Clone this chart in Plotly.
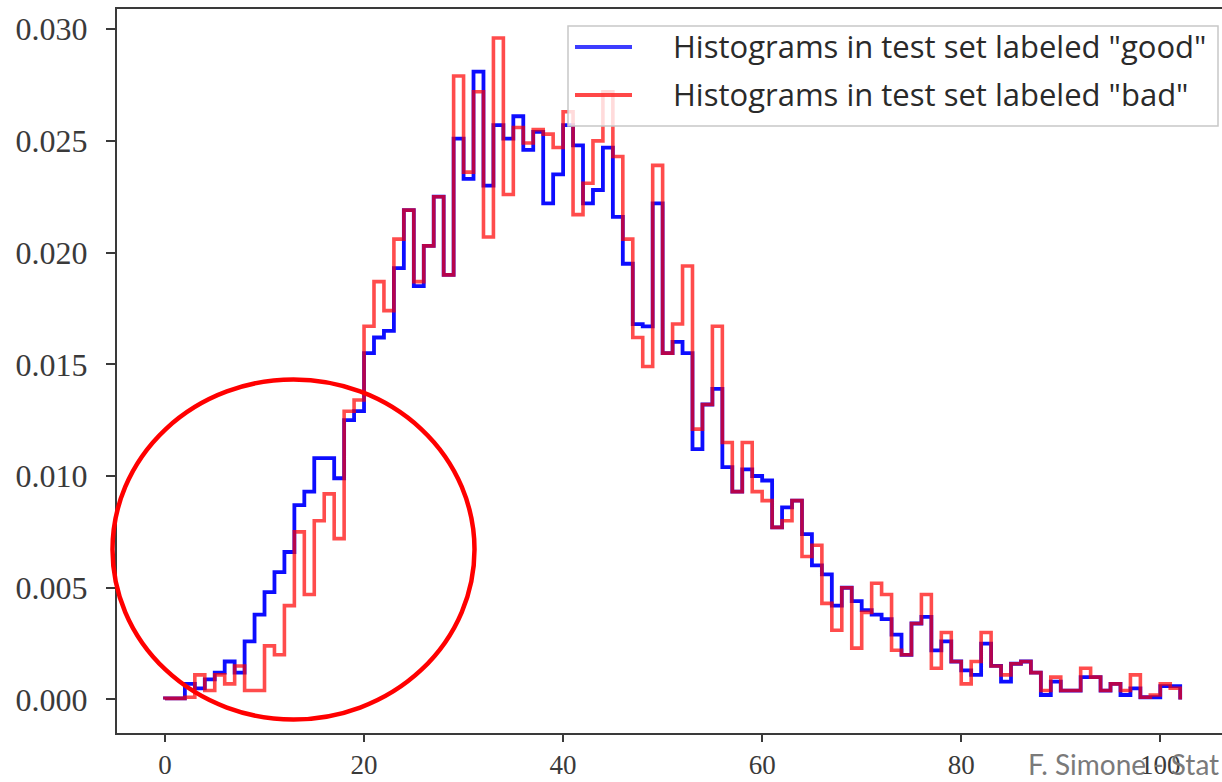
import plotly.graph_objects as go

# ---- data ----
bin_start = 0.0
bin_width = 1.0

good_density = [
    0.00005, 0.00005, 0.0007, 0.0005, 0.0009, 0.0012, 0.0017, 0.0012, 0.0026, 0.0038,
    0.0048, 0.0057, 0.0066, 0.0087, 0.0093, 0.0108, 0.0108, 0.0099, 0.0125, 0.0129,
    0.0155, 0.0162, 0.0165, 0.0193, 0.0219, 0.0185, 0.0203, 0.0225, 0.0190, 0.0251,
    0.0233, 0.0281, 0.0230, 0.0257, 0.0251, 0.0261, 0.0246, 0.0254, 0.0222, 0.0235,
    0.0257, 0.0248, 0.0222, 0.0228, 0.0247, 0.0216, 0.0195, 0.0168, 0.0167, 0.0222,
    0.0155, 0.0160, 0.0155, 0.0112, 0.0132, 0.0139, 0.0104, 0.0093, 0.0103, 0.0100,
    0.0098, 0.0077, 0.0086, 0.0089, 0.0074, 0.0060, 0.0056, 0.0042, 0.0050, 0.0044,
    0.0040, 0.0038, 0.0036, 0.0029, 0.0020, 0.0034, 0.0037, 0.0022, 0.0026, 0.0017,
    0.0013, 0.0011, 0.0025, 0.0015, 0.0008, 0.0016, 0.0017, 0.0012, 0.0002, 0.0008,
    0.0004, 0.0004, 0.0010, 0.0010, 0.0004, 0.0007, 0.0002, 0.0005, 0.0001, 0.0001,
    0.0006, 0.0006,
]

bad_density = [
    0.00005, 0.00005, 0.0001, 0.0011, 0.0004, 0.0011, 0.0007, 0.0015, 0.0004, 0.0004,
    0.0024, 0.0020, 0.0042, 0.0075, 0.0047, 0.0080, 0.0092, 0.0072, 0.0129, 0.0134,
    0.0167, 0.0187, 0.0174, 0.0206, 0.0219, 0.0187, 0.0203, 0.0225, 0.0190, 0.0279,
    0.0236, 0.0272, 0.0207, 0.0296, 0.0226, 0.0256, 0.0249, 0.0255, 0.0253, 0.0247,
    0.0263, 0.0217, 0.0231, 0.0250, 0.0272, 0.0243, 0.0206, 0.0162, 0.0149, 0.0239,
    0.0155, 0.0168, 0.0194, 0.0121, 0.0132, 0.0167, 0.0115, 0.0093, 0.0115, 0.0093,
    0.0089, 0.0077, 0.0080, 0.0089, 0.0064, 0.0069, 0.0043, 0.0031, 0.0050, 0.0023,
    0.0039, 0.0052, 0.0047, 0.0022, 0.0020, 0.0034, 0.0047, 0.0014, 0.0030, 0.0017,
    0.0007, 0.0017, 0.0030, 0.0015, 0.0011, 0.0016, 0.0017, 0.0012, 0.0004, 0.0010,
    0.0004, 0.0004, 0.0014, 0.0010, 0.0004, 0.0007, 0.0004, 0.0011, 0.0001, 0.0002,
    0.0007, 0.0005,
]

series_names = ['Histograms in test set labeled "good"',
                'Histograms in test set labeled "bad"']
x_ticks = [0, 20, 40, 60, 80, 100]
y_ticks = [0.000, 0.005, 0.010, 0.015, 0.020, 0.025, 0.030]
footer_text = "F. Simone - Stat"

# ---- build step outlines (histtype="step") ----
n_bins = len(good_density)
edges = [bin_start + i * bin_width for i in range(n_bins + 1)]


def step_xy(vals):
    xs = [edges[0]] + edges + [edges[-1]]
    ys = [0.0] + list(vals) + [vals[-1], 0.0]
    return xs, ys


gx, gy = step_xy(good_density)
bx, by = step_xy(bad_density)

fig = go.Figure()
fig.add_trace(go.Scatter(x=gx, y=gy, mode="lines", line_shape="hv",
                         line=dict(color="rgba(0,0,255,0.95)", width=3.8),
                         name=series_names[0], showlegend=False))
fig.add_trace(go.Scatter(x=bx, y=by, mode="lines", line_shape="hv",
                         line=dict(color="rgba(255,0,0,0.7)", width=3.6),
                         name=series_names[1], showlegend=False))

W, H = 1222, 782
ML, MR, MT, MB = 117, 0, 9, 49
PW, PH = W - ML - MR, H - MT - MB


def px(xp):
    return (xp - ML) / PW


def py(yp):
    return (H - MB - yp) / PH


y_tick_font = dict(family="Liberation Serif, DejaVu Serif, serif", size=32, color="#3a3a3a")
x_tick_font = dict(family="Liberation Serif, DejaVu Serif, serif", size=27, color="#3a3a3a")

fig.update_layout(
    width=W, height=H,
    margin=dict(l=ML, r=MR, t=MT, b=MB, pad=0, autoexpand=False),
    paper_bgcolor="white", plot_bgcolor="white",
    showlegend=False,
    xaxis=dict(range=[-4.82, 106.2], tickvals=x_ticks, ticktext=[str(v) for v in x_ticks],
               showgrid=False, zeroline=False, showline=True, mirror=True,
               linecolor="#3a3a3a", linewidth=2, ticks="outside", ticklen=7,
               tickwidth=1.5, tickcolor="#3a3a3a", tickfont=x_tick_font,
               ticklabelstandoff=0, automargin=False),
    yaxis=dict(range=[-0.0015, 0.0309], tickvals=y_ticks,
               ticktext=["%.3f" % v for v in y_ticks],
               showgrid=False, zeroline=False, showline=True, mirror=False,
               linecolor="#3a3a3a", linewidth=2, ticks="outside", ticklen=9,
               tickwidth=1.5, tickcolor="#3a3a3a", tickfont=y_tick_font,
               ticklabelstandoff=12, automargin=False),
)

shapes = []
annotations = []

# legend box (semi-transparent, like matplotlib)
shapes.append(dict(type="rect", xref="paper", yref="paper", layer="above",
                   x0=px(568), x1=px(1218), y0=py(126), y1=py(26),
                   fillcolor="rgba(255,255,255,0.8)",
                   line=dict(color="rgba(200,200,200,1)", width=1.5)))
legend_rows = [(47, "rgba(40,40,255,0.9)", series_names[0]),
               (95, "rgba(255,40,40,0.85)", series_names[1])]
for yrow, col, label in legend_rows:
    shapes.append(dict(type="line", xref="paper", yref="paper", layer="above",
                       x0=px(575), x1=px(632), y0=py(yrow), y1=py(yrow),
                       line=dict(color=col, width=4)))
    annotations.append(dict(xref="paper", yref="paper", x=px(671), y=py(yrow - 1),
                            xanchor="left", yanchor="middle", showarrow=False,
                            text=label,
                            font=dict(family="Open Sans, Lato, sans-serif", size=31,
                                      color="#2a2a2a")))

# red circle highlighting the low-x region
shapes.append(dict(type="circle", xref="paper", yref="paper", layer="above",
                   x0=px(112.5), x1=px(474.5), y0=py(719.5), y1=py(379.5),
                   line=dict(color="rgb(255,0,0)", width=4.5)))

# footer text
annotations.append(dict(xref="paper", yref="paper", x=px(1026), y=py(764),
                        xanchor="left", yanchor="middle", showarrow=False,
                        text=footer_text,
                        font=dict(family="Lato, Open Sans, sans-serif", size=28,
                                  color="#7a7a7a")))

fig.update_layout(shapes=shapes, annotations=annotations)
fig.write_html("out.html")
